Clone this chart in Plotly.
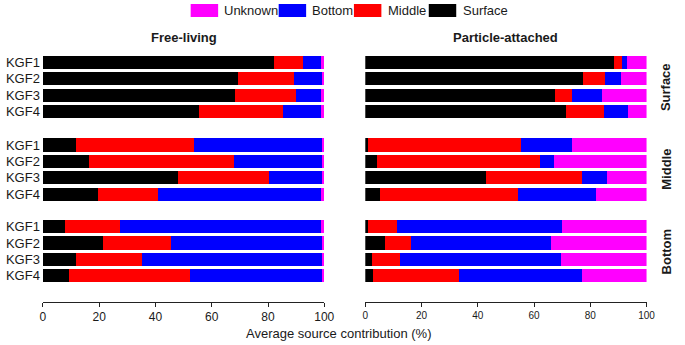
import plotly.graph_objects as go

samples = ["KGF1", "KGF2", "KGF3", "KGF4"]
sources = ["Surface", "Middle", "Bottom", "Unknown"]
colors = {"Surface": "#000000", "Middle": "#ff0000", "Bottom": "#0000ff", "Unknown": "#ff00ff"}
depths = ["Surface", "Middle", "Bottom"]
fractions = ["Free-living", "Particle-attached"]
x_ticks = [0, 20, 40, 60, 80, 100]

# Free-living: source contributions (Surface, Middle, Bottom, Unknown) per sample
fl_surface_src_s = [82.1, 69.3, 68.1, 55.6]
fl_middle_src_s = [10.3, 19.8, 21.8, 29.9]
fl_bottom_src_s = [6.6, 10.1, 9.1, 13.4]
fl_unknown_s = [1.0, 0.8, 1.0, 1.1]

fl_surface_src_m = [11.9, 16.4, 48.0, 19.5]
fl_middle_src_m = [41.9, 51.4, 32.2, 21.3]
fl_bottom_src_m = [45.4, 31.4, 19.3, 58.1]
fl_unknown_m = [0.8, 0.8, 0.5, 1.1]

fl_surface_src_b = [7.7, 21.4, 11.6, 9.2]
fl_middle_src_b = [19.6, 24.1, 23.7, 42.9]
fl_bottom_src_b = [71.6, 53.7, 64.0, 47.1]
fl_unknown_b = [1.1, 0.8, 0.7, 0.8]

# Particle-attached
pa_surface_src_s = [88.4, 77.4, 67.3, 71.2]
pa_middle_src_s = [2.9, 8.0, 6.2, 13.7]
pa_bottom_src_s = [1.8, 5.4, 10.8, 8.6]
pa_unknown_s = [6.9, 9.2, 15.7, 6.5]

pa_surface_src_m = [0.8, 4.1, 43.0, 5.2]
pa_middle_src_m = [54.7, 58.0, 34.0, 49.1]
pa_bottom_src_m = [18.0, 4.9, 9.1, 27.9]
pa_unknown_m = [26.5, 33.0, 13.9, 17.8]

pa_surface_src_b = [1.0, 6.9, 2.3, 2.8]
pa_middle_src_b = [10.3, 9.3, 9.9, 30.6]
pa_bottom_src_b = [58.7, 49.9, 57.3, 43.8]
pa_unknown_b = [30.0, 33.9, 30.5, 22.8]

data = {
    ("Free-living", "Surface"): [fl_surface_src_s, fl_middle_src_s, fl_bottom_src_s, fl_unknown_s],
    ("Free-living", "Middle"): [fl_surface_src_m, fl_middle_src_m, fl_bottom_src_m, fl_unknown_m],
    ("Free-living", "Bottom"): [fl_surface_src_b, fl_middle_src_b, fl_bottom_src_b, fl_unknown_b],
    ("Particle-attached", "Surface"): [pa_surface_src_s, pa_middle_src_s, pa_bottom_src_s, pa_unknown_s],
    ("Particle-attached", "Middle"): [pa_surface_src_m, pa_middle_src_m, pa_bottom_src_m, pa_unknown_m],
    ("Particle-attached", "Bottom"): [pa_surface_src_b, pa_middle_src_b, pa_bottom_src_b, pa_unknown_b],
}

W, H = 685, 345
FONT = "Liberation Sans, Arial, sans-serif"
TXT = "#1a1a1a"

x_domains = [[40.7 / W, 327.5 / W], [369.3 / W, 656.0 / W]]
row_tops = [54.15, 136.75, 218.45]
slot_h = 65.6
y_domains = [[1 - (t + slot_h) / H, 1 - t / H] for t in row_tops]
axis_y_px = 302.0

fig = go.Figure()
layout = {}
k = 0
for ci, frac in enumerate(fractions):
    for ri, depth in enumerate(depths):
        k += 1
        xa = "x" if k == 1 else f"x{k}"
        ya = "y" if k == 1 else f"y{k}"
        vals = data[(frac, depth)]
        for si, src in enumerate(sources):
            fig.add_trace(go.Bar(
                y=samples, x=vals[si], orientation="h",
                marker=dict(color=colors[src], line=dict(width=0)),
                name=src, showlegend=False, xaxis=xa, yaxis=ya,
                hoverinfo="x+y+name",
            ))
        xkey = "xaxis" if k == 1 else f"xaxis{k}"
        ykey = "yaxis" if k == 1 else f"yaxis{k}"
        bottom = (ri == 2)
        xcfg = dict(domain=x_domains[ci], range=[0, 100], showgrid=False, zeroline=False,
                    fixedrange=True)
        if bottom:
            xcfg.update(anchor="free", position=1 - axis_y_px / H, showline=True,
                        linecolor="#222", linewidth=1, ticks="outside", ticklen=4,
                        tickcolor="#222", tickvals=x_ticks, ticklabelstandoff=0,
                        tickfont=dict(family=FONT, size=12 if ci == 0 else 10, color=TXT))
        else:
            xcfg.update(anchor=ya, visible=False)
        layout[xkey] = xcfg
        layout[ykey] = dict(domain=y_domains[ri], anchor=xa, type="category",
                            categoryorder="array", categoryarray=samples,
                            range=[3.5, -0.5], showgrid=False, zeroline=False,
                            showline=False, ticks="", showticklabels=(ci == 0),
                            ticklabelstandoff=2,
                            tickfont=dict(family=FONT, size=13, color=TXT), fixedrange=True)

fig.update_layout(**layout)

annotations = []
shapes = []
# Column titles
for ci, frac in enumerate(fractions):
    annotations.append(dict(text=f"<b>{frac}</b>", x=sum(x_domains[ci]) / 2, y=1 - 37 / H,
                            xref="paper", yref="paper", showarrow=False,
                            xanchor="center", yanchor="middle",
                            font=dict(family=FONT, size=13, color=TXT)))
# Row labels
for ri, depth in enumerate(depths):
    annotations.append(dict(text=f"<b>{depth}</b>", x=676 / W, y=sum(y_domains[ri]) / 2,
                            xref="paper", yref="paper", showarrow=False, textangle=-90,
                            xanchor="center", yanchor="middle",
                            font=dict(family=FONT, size=13, color=TXT)))
# Axis title
annotations.append(dict(text="Average source contribution (%)", x=342 / W, y=1 - 333 / H,
                        xref="paper", yref="paper", showarrow=False,
                        xanchor="center", yanchor="middle",
                        font=dict(family=FONT, size=13, color=TXT)))

# Manual legend
legend_items = [("Unknown", 191.3, 223.5), ("Bottom", 281.0, 313.0),
                ("Middle", 357.7, 390.0), ("Surface", 434.0, 466.5)]
for name, sx, tx in legend_items:
    shapes.append(dict(type="rect", xref="paper", yref="paper",
                       x0=sx / W, x1=(sx + 28) / W, y0=1 - 17 / H, y1=1 - 4 / H,
                       fillcolor=colors[name], line=dict(width=0)))
    annotations.append(dict(text=name, x=tx / W, y=1 - 10.5 / H, xref="paper", yref="paper",
                            xanchor="left", yanchor="middle", showarrow=False,
                            font=dict(family=FONT, size=13, color=TXT)))

fig.update_layout(
    width=W, height=H, autosize=False,
    margin=dict(l=0, r=0, t=0, b=0, pad=0),
    barmode="stack", bargap=0.19,
    plot_bgcolor="white", paper_bgcolor="white",
    showlegend=False,
    annotations=annotations, shapes=shapes,
    font=dict(family=FONT, color=TXT),
)

fig.write_html("out.html",
               config={"displayModeBar": False, "responsive": False},
               post_script="document.body.style.margin='0';document.body.style.overflow='hidden';")
